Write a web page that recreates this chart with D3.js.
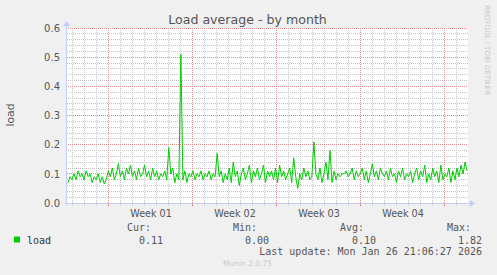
<!DOCTYPE html>
<html>
<head>
<meta charset="utf-8">
<script src="https://cdn.jsdelivr.net/npm/d3@7/dist/d3.min.js"></script>
<style>
  body { margin: 0; background: #f0f0f0; }
  svg { display: block; }
  text { font-family: "DejaVu Sans", sans-serif; }
  .mono { font-family: "DejaVu Sans Mono", monospace; }
</style>
</head>
<body>
<svg id="chart" width="497" height="275"></svg>
<script>
var startTime = Date.UTC(2025, 11, 24, 15, 0, 0);
var endTime = Date.UTC(2026, 0, 26, 21, 6, 27);
var axisStart = Date.UTC(2025, 11, 24, 13, 0, 0);
var axisEnd = Date.UTC(2026, 0, 26, 23, 0, 0);

var loadValues = [
  0.07,0.09,0.08,0.10,0.08,0.11,0.09,0.10,0.08,0.11,0.09,0.10,0.07,0.09,0.08,0.10,0.07,0.09,0.065,0.08,
  0.11,0.09,0.12,0.08,0.10,0.135,0.09,0.11,0.08,0.12,0.10,0.13,0.09,0.11,0.08,0.12,0.09,0.10,0.13,0.09,0.11,0.08,
  0.12,0.09,0.11,0.08,0.10,0.09,0.11,0.08,0.19,0.10,0.12,0.07,0.10,0.08,
  0.51,
  0.08,0.11,0.07,0.10,0.09,0.11,0.08,0.10,0.09,0.11,0.08,0.10,0.09,0.11,0.08,0.10,0.09,
  0.17,
  0.09,0.11,0.07,0.10,0.08,0.12,0.07,0.14,0.09,0.11,0.06,0.10,0.12,0.08,0.10,0.13,0.07,0.11,0.09,0.12,0.08,0.10,0.13,0.07,0.11,0.09,
  0.11,0.08,0.12,0.07,0.13,0.09,0.11,0.08,0.10,0.12,0.07,0.155,0.09,0.05,0.10,0.08,0.12,0.09,0.11,0.08,0.09,
  0.21,
  0.10,0.08,0.12,0.07,0.10,0.14,0.08,0.18,0.07,0.11,0.08,0.10,0.09,
  0.10,0.10,0.11,0.09,0.10,0.12,0.08,0.11,0.09,0.10,0.12,0.08,0.11,0.07,0.10,
  0.135,0.09,0.11,0.08,0.12,0.10,0.09,0.11,0.08,0.12,0.09,0.10,0.07,0.11,0.09,
  0.12,0.08,0.10,0.09,0.11,0.07,0.10,0.12,0.08,0.11,0.09,0.13,0.07,0.10,0.08,0.12,0.09,0.11,0.07,0.13,
  0.08,0.10,0.09,0.12,0.07,0.11,0.08,0.12,0.09,0.13,0.10,0.14,0.11
];

var yTicks = [0, 0.1, 0.2, 0.3, 0.4, 0.5, 0.6];
var weekLabels = ["Week 01", "Week 02", "Week 03", "Week 04"];
var weekStarts = [Date.UTC(2025, 11, 28), Date.UTC(2026, 0, 4), Date.UTC(2026, 0, 11), Date.UTC(2026, 0, 18)];

var legendHeads = ["Cur:", "Min:", "Avg:", "Max:"];
var legendVals = ["0.11", "0.00", "0.10", "1.82"];

var step = (endTime - startTime) / (loadValues.length - 1);
var points = loadValues.map(function(v, i) {
  return { time: new Date(startTime + i * step), load: v };
});

var svg = d3.select("#chart");
var pLeft = 67, pRight = 468, pTop = 28, pBottom = 203;

var x = d3.scaleUtc().domain([new Date(axisStart), new Date(axisEnd)]).range([pLeft, pRight]);
var y = d3.scaleLinear().domain([0, 0.6]).range([pBottom, pTop]);

// plot canvas
svg.append("rect")
  .attr("x", pLeft).attr("y", pTop)
  .attr("width", pRight - pLeft).attr("height", pBottom - pTop)
  .attr("fill", "#ffffff");

var minorY = d3.range(1, 31).filter(function(k) { return k % 5 != 0; }).map(function(k) { return k * 0.02; });
var majorY = yTicks.slice(1);
var sundays = d3.utcSunday.range(x.domain()[0], x.domain()[1]);
var days = d3.utcDay.range(x.domain()[0], x.domain()[1])
  .filter(function(d) { return d.getUTCDay() != 0; });

function row(v) { return Math.floor(v + 0.01); }

// dotted grid, dots kept on one checkerboard so crossings line up
function hGrid(values, color) {
  svg.append("g").selectAll("line")
    .data(values)
    .enter().append("line")
    .attr("x1", function(d) { return pLeft + (row(y(d)) + pLeft) % 2; })
    .attr("x2", pRight)
    .attr("y1", function(d) { return row(y(d)) + 0.5; })
    .attr("y2", function(d) { return row(y(d)) + 0.5; })
    .attr("stroke", color)
    .attr("stroke-dasharray", "1,1");
}

function vGrid(values, color) {
  svg.append("g").selectAll("line")
    .data(values)
    .enter().append("line")
    .attr("x1", function(d) { return row(x(d)) + 0.5; })
    .attr("x2", function(d) { return row(x(d)) + 0.5; })
    .attr("y1", function(d) { return pTop + (row(x(d)) + pTop) % 2; })
    .attr("y2", pBottom)
    .attr("stroke", color)
    .attr("stroke-dasharray", "1,1");
}

hGrid(minorY, "#c4c4c4");
vGrid(days, "#c4c4c4");
hGrid(majorY, "#e28a8a");
vGrid(sundays, "#e28a8a");

// small ticks below the axis
svg.append("g").selectAll("line")
  .data(days)
  .enter().append("line")
  .attr("x1", function(d) { return row(x(d)) + 0.5; })
  .attr("x2", function(d) { return row(x(d)) + 0.5; })
  .attr("y1", pBottom).attr("y2", pBottom + 2)
  .attr("stroke", "#b8b8b8");
svg.append("g").selectAll("line")
  .data(sundays)
  .enter().append("line")
  .attr("x1", function(d) { return row(x(d)) + 0.5; })
  .attr("x2", function(d) { return row(x(d)) + 0.5; })
  .attr("y1", pBottom).attr("y2", pBottom + 3)
  .attr("stroke", "#e07a7a");

// y tick labels
svg.append("g")
  .attr("transform", "translate(" + pLeft + ",0)")
  .call(d3.axisLeft(y).tickValues(yTicks).tickSize(0).tickPadding(7).tickFormat(d3.format(".1f")))
  .call(function(g) {
    g.select(".domain").remove();
    g.selectAll("text")
      .attr("fill", "#555555")
      .style("font-size", "10px")
      .style("font-family", "DejaVu Sans");
  });

// week labels, centred in each week
var weekCenters = weekStarts.map(function(t) { return new Date(t + 3.5 * 864e5); });
svg.append("g")
  .attr("transform", "translate(0," + pBottom + ")")
  .call(d3.axisBottom(x).tickValues(weekCenters).tickSize(0).tickPadding(7)
    .tickFormat(function(d, i) { return weekLabels[i]; }))
  .call(function(g) {
    g.select(".domain").remove();
    g.selectAll("text")
      .attr("fill", "#555555")
      .style("font-size", "9.6px")
      .style("font-family", "DejaVu Sans");
  });

// axes with arrows
var axisColor = "#c4ccf8";
svg.append("line")
  .attr("x1", pLeft - 2).attr("x2", pRight + 2)
  .attr("y1", pBottom + 0.5).attr("y2", pBottom + 0.5)
  .attr("stroke", axisColor);
svg.append("line")
  .attr("x1", pLeft - 0.5).attr("x2", pLeft - 0.5)
  .attr("y1", pBottom + 2).attr("y2", pTop - 4)
  .attr("stroke", axisColor);
svg.append("path")
  .attr("d", "M" + (pRight + 2) + "," + (pBottom - 3) + "L" + (pRight + 7) + "," + (pBottom + 0.5) + "L" + (pRight + 2) + "," + (pBottom + 4) + "Z")
  .attr("fill", axisColor);
svg.append("path")
  .attr("d", "M" + (pLeft - 4) + "," + (pTop - 2) + "L" + (pLeft - 0.5) + "," + (pTop - 7) + "L" + (pLeft + 3) + "," + (pTop - 2) + "Z")
  .attr("fill", axisColor);

// the load line
var line = d3.line()
  .x(function(d) { return x(d.time); })
  .y(function(d) { return y(d.load); });

svg.append("path")
  .datum(points)
  .attr("fill", "none")
  .attr("stroke", "#00cc00")
  .attr("stroke-width", 1)
  .attr("stroke-linejoin", "round")
  .attr("d", line);

// title and labels
svg.append("text")
  .attr("x", 247.5).attr("y", 24)
  .attr("text-anchor", "middle")
  .attr("fill", "#555555")
  .style("font-size", "12.6px")
  .text("Load average - by month");

svg.append("text")
  .attr("transform", "translate(14,115) rotate(-90)")
  .attr("text-anchor", "middle")
  .attr("fill", "#555555")
  .style("font-size", "10.8px")
  .text("load");

svg.append("text")
  .attr("transform", "translate(485,5) rotate(90)")
  .attr("fill", "#c8c8c8")
  .style("font-size", "7px")
  .text("RRDTOOL / TOBI OETIKER");

// legend
svg.append("rect")
  .attr("x", 14).attr("y", 236.5)
  .attr("width", 6).attr("height", 6)
  .attr("fill", "#00cc00");

svg.append("text")
  .attr("class", "mono")
  .attr("x", 27).attr("y", 244)
  .attr("fill", "#333333")
  .style("font-size", "10px")
  .text("load");

var headX = [127, 233, 340, 447];
var valRight = [163, 269, 376, 482];

svg.selectAll(".head")
  .data(legendHeads)
  .enter().append("text")
  .attr("class", "mono head")
  .attr("x", function(d, i) { return headX[i]; })
  .attr("y", 231)
  .attr("fill", "#555555")
  .style("font-size", "10px")
  .text(function(d) { return d; });

svg.selectAll(".val")
  .data(legendVals)
  .enter().append("text")
  .attr("class", "mono val")
  .attr("x", function(d, i) { return valRight[i]; })
  .attr("y", 244)
  .attr("text-anchor", "end")
  .attr("fill", "#555555")
  .style("font-size", "10px")
  .text(function(d) { return d; });

svg.append("text")
  .attr("class", "mono")
  .attr("x", 482).attr("y", 255)
  .attr("text-anchor", "end")
  .attr("fill", "#555555")
  .style("font-size", "10px")
  .text("Last update: Mon Jan 26 21:06:27 2026");

svg.append("text")
  .attr("x", 247.5).attr("y", 266)
  .attr("text-anchor", "middle")
  .attr("fill", "#c8c8c8")
  .style("font-size", "7.5px")
  .text("Munin 2.0.75");
</script>
</body>
</html>
